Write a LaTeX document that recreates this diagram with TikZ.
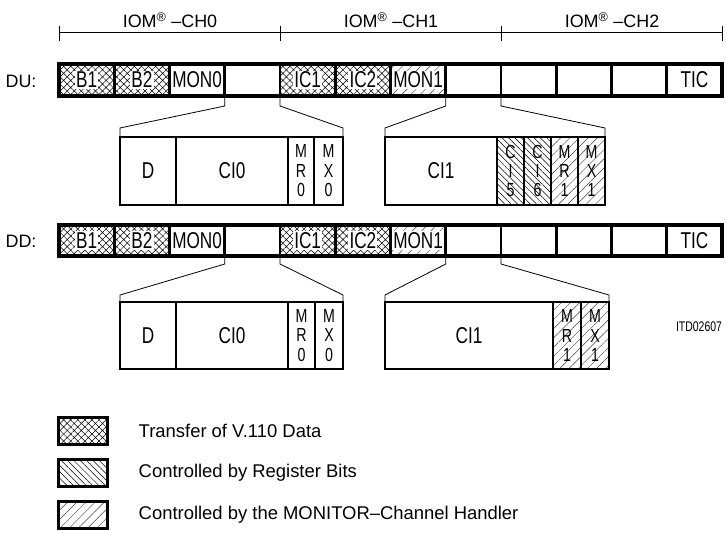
\documentclass[tikz,border=0pt]{standalone}
\usepackage{fontspec}
\setmainfont{Liberation Sans}
\newfontfamily\narrowsf{Liberation Sans}[FakeStretch=0.75]
\usepackage{tikz}
\usetikzlibrary{positioning,patterns.meta}
\newcommand\cellfnt{\narrowsf\fontsize{23}{24}\selectfont}
\newcommand\stackfnt{\narrowsf\fontsize{19}{19.5}\selectfont}
\newcommand\headfnt{\fontsize{18}{20}\selectfont}
\newcommand\keyfnt{\fontsize{18.5}{20}\selectfont}
\newcommand\idfnt{\narrowsf\fontsize{14}{16}\selectfont}

\begin{document}
\begin{tikzpicture}[x=1bp,y=-1bp,
  cell/.style={draw,line width=2.6bp,minimum width=55.25bp,minimum height=32bp,inner sep=0pt,outer sep=0pt,font=\cellfnt},
  lowcell/.style={cell,minimum height=31bp},
  tag/.style={fill=white,inner sep=1.2bp,font=\cellfnt},
  v110/.style={pattern={Hatch[angle=45,distance=5bp,line width=0.5bp]}},
  regbits/.style={pattern={Lines[angle=-45,distance=4.5bp,line width=0.5bp]}},
  monitor/.style={pattern={Lines[angle=45,distance=6.5bp,line width=0.45bp]},pattern color=black!75},
  frame/.style={draw,line width=3.4bp},
  subbox/.style={draw,line width=2.4bp,minimum height=68bp,inner sep=0pt,outer sep=0pt,font=\cellfnt},
  slim/.style={subbox,align=center,font=\stackfnt},
  bracket/.style={draw,line width=0.8bp},
  head/.style={font=\headfnt,inner sep=0pt},
  keybox/.style={draw,line width=3bp,minimum width=49bp,minimum height=27bp,inner sep=0pt},
  keytext/.style={font=\keyfnt,inner sep=0pt,anchor=west}
]
\useasboundingbox (0,0) rectangle (727,533);

% IOM channel scale
\coordinate (t0) at (59,33);
\coordinate (t1) at (280.5,33);
\coordinate (t2) at (501.5,33);
\coordinate (t3) at (722,33);
\draw[line width=1bp] (t0) -- (t3);
\draw[line width=1bp] ([yshift=7bp]t0) -- ([yshift=-8bp]t0);
\draw[line width=1bp] ([yshift=7bp]t1) -- ([yshift=-8bp]t1);
\draw[line width=1bp] ([yshift=7bp]t2) -- ([yshift=-8bp]t2);
\draw[line width=1bp] ([yshift=7bp]t3) -- ([yshift=-8bp]t3);
\node[head] (ch0) at (170,20) {IOM\textsuperscript{\textregistered}\ --CH0};
\node[head] (ch1) at (391,20) {IOM\textsuperscript{\textregistered}\ --CH1};
\node[head] (ch2) at (612,20) {IOM\textsuperscript{\textregistered}\ --CH2};

% DU frame
\node[head] (du) at (21,81) {DU:};
\node[cell,v110,label={[tag]center:B1}] (du1) at (86.625,80) {};
\node[cell,v110,label={[tag]center:B2},right=0pt of du1] (du2) {};
\node[cell,right=0pt of du2] (du3) {MON0};
\node[cell,right=0pt of du3] (du4) {};
\node[cell,v110,label={[tag]center:IC1},right=0pt of du4] (du5) {};
\node[cell,v110,label={[tag]center:IC2},right=0pt of du5] (du6) {};
\node[cell,monitor,label={[tag]center:MON1},right=0pt of du6] (du7) {};
\node[cell,right=0pt of du7] (du8) {};
\node[cell,right=0pt of du8] (du9) {};
\node[cell,right=0pt of du9] (du10) {};
\node[cell,right=0pt of du10] (du11) {};
\node[cell,right=0pt of du11] (du12) {TIC};
\draw[frame] (du1.north west) rectangle (du12.south east);

% DU C/I and monitor bytes
\node[subbox,minimum width=56bp] (duD) at (148,171) {D};
\node[subbox,minimum width=112bp,right=0pt of duD] (duCIO) {CI0};
\node[slim,minimum width=26bp,right=0pt of duCIO] (duMR) {M\\R\\0};
\node[slim,minimum width=29bp,right=0pt of duMR] (duMX) {M\\X\\0};
\node[subbox,minimum width=112bp] (duCI) at (441,171) {CI1};
\node[slim,regbits,minimum width=27bp,right=0pt of duCI] (duC5) {C\\I\\5};
\node[slim,regbits,minimum width=27bp,right=0pt of duC5] (duC6) {C\\I\\6};
\node[slim,monitor,minimum width=27bp,right=0pt of duC6] (duMRb) {M\\R\\1};
\node[slim,monitor,minimum width=27bp,right=0pt of duMRb] (duMXb) {M\\X\\1};
\draw[bracket] (du3.south east) -- ([yshift=-10bp]du3.south east) -- ([yshift=9bp]duD.north west) -- (duD.north west);
\draw[bracket] (du4.south east) -- ([yshift=-10bp]du4.south east) -- ([yshift=9bp]duMX.north east) -- (duMX.north east);
\draw[bracket] (du7.south east) -- ([yshift=-10bp]du7.south east) -- ([yshift=9bp]duCI.north west) -- (duCI.north west);
\draw[bracket] (du8.south east) -- ([yshift=-10bp]du8.south east) -- ([yshift=9bp]duMXb.north east) -- (duMXb.north east);

% DD frame
\node[head] (dd) at (21,241) {DD:};
\node[lowcell,v110,label={[tag]center:B1}] (dd1) at (86.625,240.5) {};
\node[lowcell,v110,label={[tag]center:B2},right=0pt of dd1] (dd2) {};
\node[lowcell,right=0pt of dd2] (dd3) {MON0};
\node[lowcell,right=0pt of dd3] (dd4) {};
\node[lowcell,v110,label={[tag]center:IC1},right=0pt of dd4] (dd5) {};
\node[lowcell,v110,label={[tag]center:IC2},right=0pt of dd5] (dd6) {};
\node[lowcell,monitor,label={[tag]center:MON1},right=0pt of dd6] (dd7) {};
\node[lowcell,right=0pt of dd7] (dd8) {};
\node[lowcell,right=0pt of dd8] (dd9) {};
\node[lowcell,right=0pt of dd9] (dd10) {};
\node[lowcell,right=0pt of dd10] (dd11) {};
\node[lowcell,right=0pt of dd11] (dd12) {TIC};
\draw[frame] (dd1.north west) rectangle (dd12.south east);

% DD C/I and monitor bytes
\node[subbox,minimum height=67bp,minimum width=56bp] (ddD) at (148,335.5) {D};
\node[subbox,minimum height=67bp,minimum width=112bp,right=0pt of ddD] (ddCIO) {CI0};
\node[slim,minimum height=67bp,minimum width=27bp,right=0pt of ddCIO] (ddMR) {M\\R\\0};
\node[slim,minimum height=67bp,minimum width=28bp,right=0pt of ddMR] (ddMX) {M\\X\\0};
\node[subbox,minimum height=67bp,minimum width=168bp] (ddCI) at (469,335.5) {CI1};
\node[slim,monitor,minimum height=67bp,minimum width=28bp,right=0pt of ddCI] (ddMRb) {M\\R\\1};
\node[slim,monitor,minimum height=67bp,minimum width=28bp,right=0pt of ddMRb] (ddMXb) {M\\X\\1};
\draw[bracket] (dd3.south east) -- ([yshift=-8bp]dd3.south east) -- ([yshift=7bp]ddD.north west) -- (ddD.north west);
\draw[bracket] (dd4.south east) -- ([yshift=-8bp]dd4.south east) -- ([yshift=7bp]ddMX.north east) -- (ddMX.north east);
\draw[bracket] (dd7.south east) -- ([yshift=-8bp]dd7.south east) -- ([yshift=7bp]ddCI.north west) -- (ddCI.north west);
\draw[bracket] (dd8.south east) -- ([yshift=-8bp]dd8.south east) -- ([yshift=7bp]ddMXb.north east) -- (ddMXb.north east);

\node[font=\idfnt,inner sep=0pt] (itd) at (699,327) {ITD02607};

% key
\node[keybox,v110] (key1) at (82.5,431) {};
\node[keybox,regbits] (key2) at (82.5,473) {};
\node[keybox,monitor] (key3) at (82.5,515) {};
\node[keytext,right=30bp of key1] (txt1) {Transfer of V.110 Data};
\node[keytext,right=30bp of key2] (txt2) {Controlled by Register Bits};
\node[keytext,right=30bp of key3] (txt3) {Controlled by the MONITOR--Channel Handler};
\end{tikzpicture}
\end{document}
